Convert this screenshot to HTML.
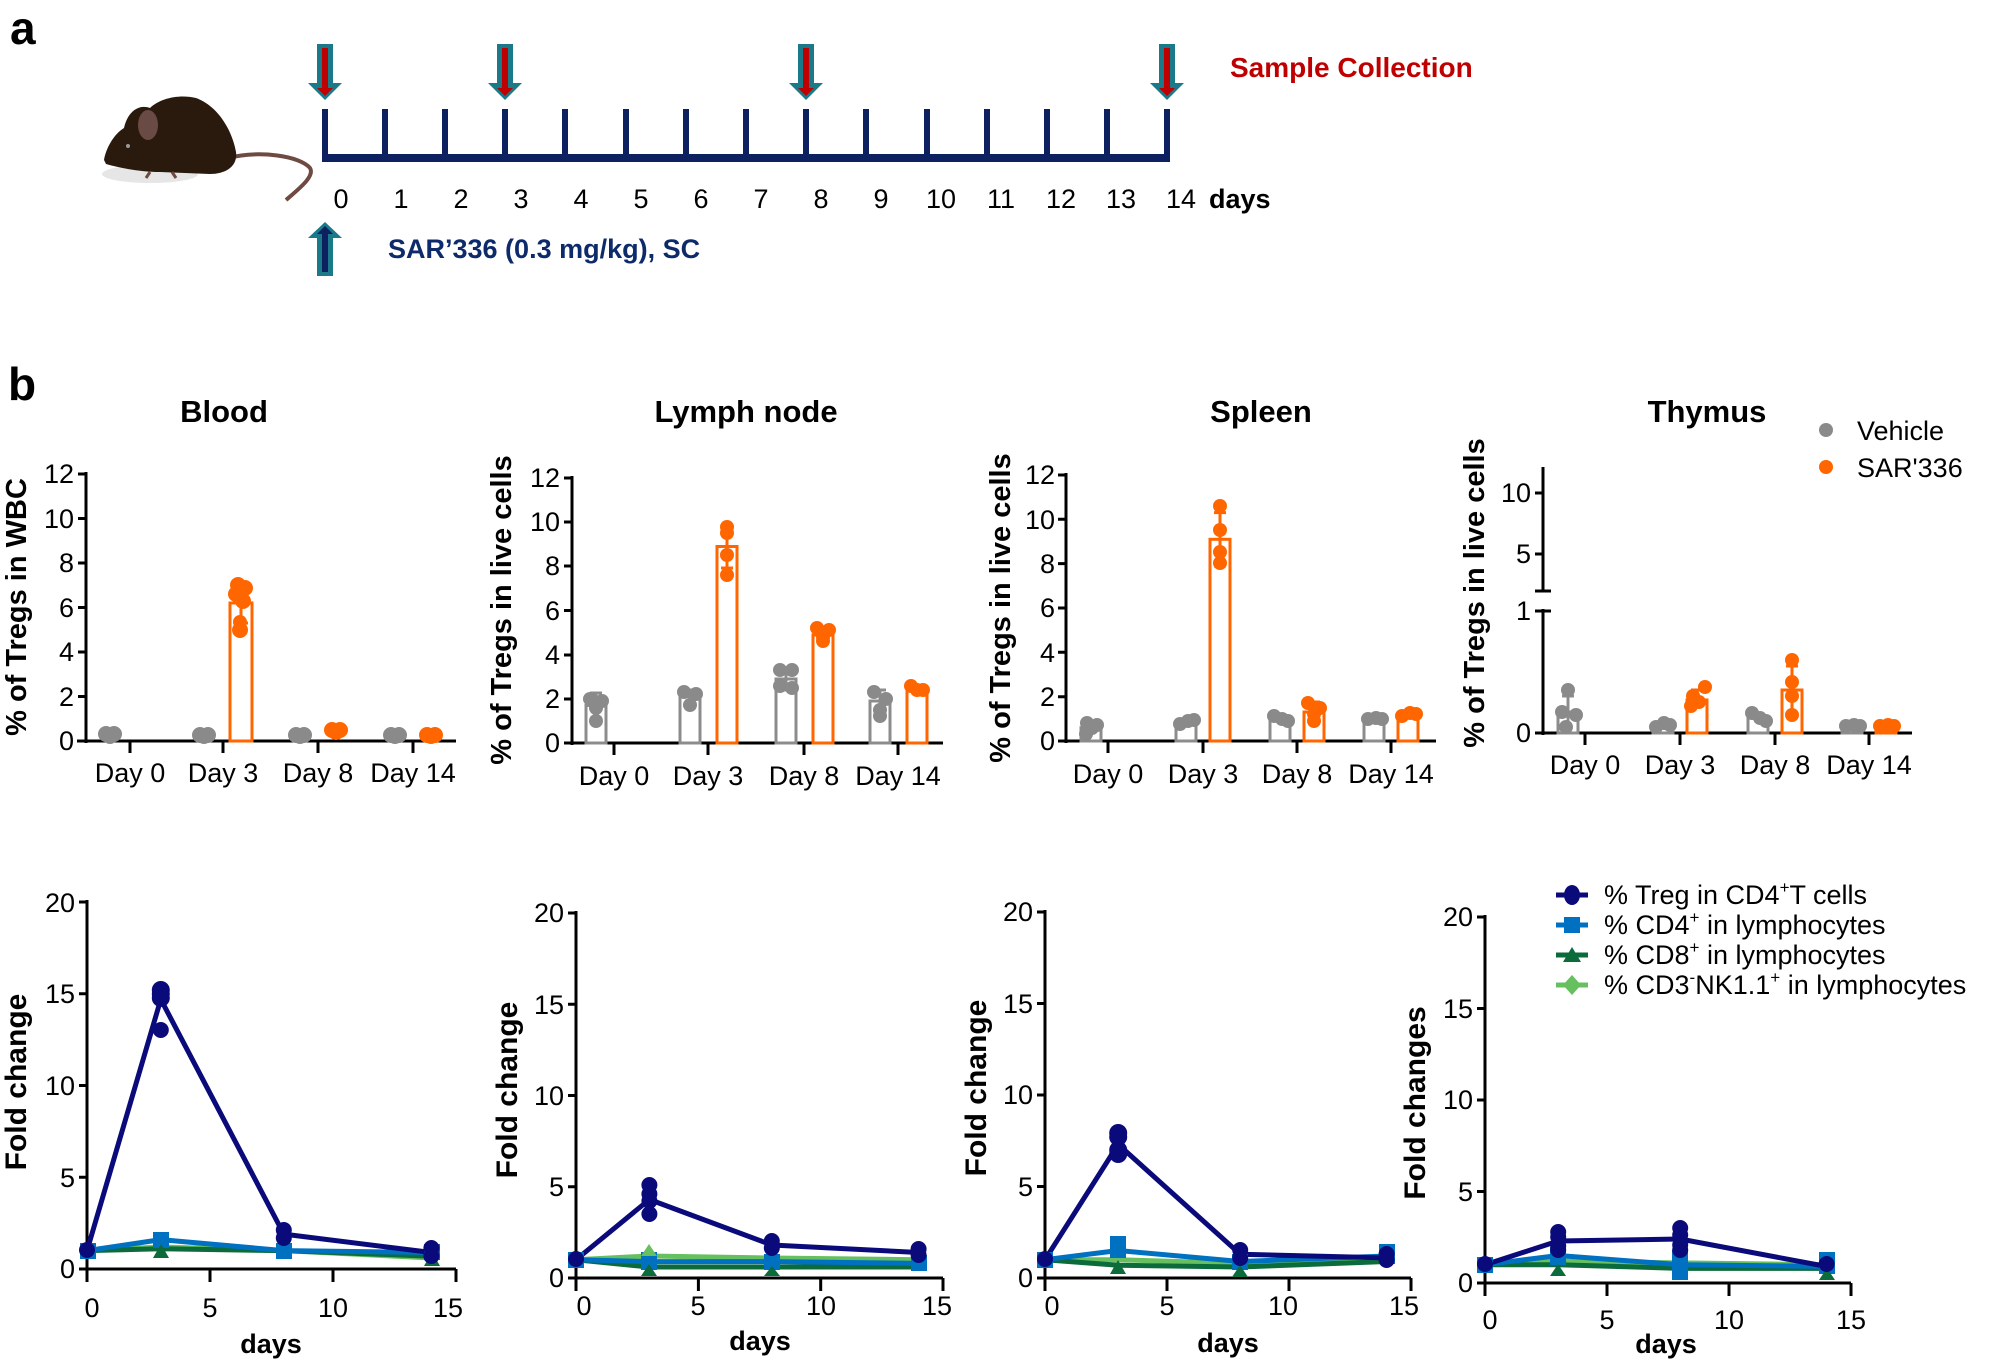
<!DOCTYPE html>
<html><head><meta charset="utf-8"><style>
html,body{margin:0;padding:0;background:#fff;}
svg{display:block;font-family:"Liberation Sans",Arial,sans-serif;}
.t{font-size:27px;fill:#000;}
.b{font-weight:bold;}
</style></head><body>
<svg width="2000" height="1364" viewBox="0 0 2000 1364" xmlns="http://www.w3.org/2000/svg">
<!-- panel a -->
<text x="10" y="44" font-size="46" font-weight="bold">a</text>
<!-- mouse -->
<ellipse cx="150" cy="174" rx="48" ry="9" fill="#e6e6e6"/>
<path d="M228,158 C260,150 300,156 310,168 C315,176 300,188 286,200" stroke="#6e4a42" stroke-width="4" fill="none"/>
<path d="M104,160 C106,148 114,134 124,128 C128,110 140,104 150,108 C160,98 180,94 196,98 C218,106 232,130 236,152 C238,166 226,174 210,174 L160,172 C140,172 120,168 106,164 Z" fill="#2a1a0e"/>
<ellipse cx="148" cy="125" rx="10" ry="15" fill="#6a4a44"/>
<circle cx="128" cy="146" r="2" fill="#999"/>
<path d="M150,172 l-4,6 M172,172 l4,6" stroke="#6e4a42" stroke-width="3"/>
<!-- timeline -->
<g fill="#0d2060">
<rect x="322" y="154" width="848" height="8"/>
<rect x="322" y="109" width="6" height="50"/><rect x="382" y="109" width="6" height="50"/><rect x="442" y="109" width="6" height="50"/><rect x="502" y="109" width="6" height="50"/><rect x="562" y="109" width="6" height="50"/><rect x="623" y="109" width="6" height="50"/><rect x="683" y="109" width="6" height="50"/><rect x="743" y="109" width="6" height="50"/><rect x="803" y="109" width="6" height="50"/><rect x="863" y="109" width="6" height="50"/><rect x="924" y="109" width="6" height="50"/><rect x="984" y="109" width="6" height="50"/><rect x="1044" y="109" width="6" height="50"/><rect x="1104" y="109" width="6" height="50"/><rect x="1164" y="109" width="6" height="50"/>
</g>
<g class="t" text-anchor="middle">
<text x="341" y="208">0</text><text x="401" y="208">1</text><text x="461" y="208">2</text><text x="521" y="208">3</text><text x="581" y="208">4</text><text x="641" y="208">5</text><text x="701" y="208">6</text><text x="761" y="208">7</text><text x="821" y="208">8</text><text x="881" y="208">9</text><text x="941" y="208">10</text><text x="1001" y="208">11</text><text x="1061" y="208">12</text><text x="1121" y="208">13</text><text x="1181" y="208">14</text>
</g>
<text x="1209" y="208" class="t b">days</text>
<!-- down arrows -->
<g>
<path d="M317,44 h16 v39 h9 l-17,17 l-17,-17 h9 z" fill="#1a7a8a"/><path d="M322,48 h6 v40 h5 l-8,8 l-8,-8 h5 z" fill="#c00000"/>
<path d="M497,44 h16 v39 h9 l-17,17 l-17,-17 h9 z" fill="#1a7a8a"/><path d="M502,48 h6 v40 h5 l-8,8 l-8,-8 h5 z" fill="#c00000"/>
<path d="M798,44 h16 v39 h9 l-17,17 l-17,-17 h9 z" fill="#1a7a8a"/><path d="M803,48 h6 v40 h5 l-8,8 l-8,-8 h5 z" fill="#c00000"/>
<path d="M1159,44 h16 v39 h9 l-17,17 l-17,-17 h9 z" fill="#1a7a8a"/><path d="M1164,48 h6 v40 h5 l-8,8 l-8,-8 h5 z" fill="#c00000"/>
</g>
<path d="M317,276 h16 v-38 h9 l-17,-16 l-17,16 h9 z" fill="#1a7a8a"/><path d="M322,272 h6 v-38 h5 l-8,-8 l-8,8 h5 z" fill="#0d2060"/>
<text x="388" y="258" font-size="27" font-weight="bold" fill="#0d2a6b">SAR’336 (0.3 mg/kg), SC</text>
<text x="1230" y="77" font-size="28" font-weight="bold" fill="#c00000">Sample  Collection</text>

<!-- panel b -->
<text x="8" y="400" font-size="46" font-weight="bold">b</text>
<g font-size="31" font-weight="bold" text-anchor="middle">
<text x="224" y="422">Blood</text><text x="746" y="422">Lymph node</text><text x="1261" y="422">Spleen</text><text x="1707" y="422">Thymus</text>
</g>
<g text-anchor="middle" font-size="29" font-weight="bold">
<text transform="translate(26,607) rotate(-90)">% of Tregs in WBC</text>
<text transform="translate(511,610) rotate(-90)">% of Tregs in live cells</text>
<text transform="translate(1010,608) rotate(-90)">% of Tregs in live cells</text>
<text transform="translate(1484,593) rotate(-90)">% of Tregs in live cells</text>
</g>

<!-- Blood axes -->
<g stroke="#000" stroke-width="3" fill="none">
<path d="M86,472 V743 M77,741 H456"/>
<path d="M78,741H86M78,696.5H86M78,652H86M78,607.5H86M78,563H86M78,518.5H86M78,474H86"/>
<path d="M130,741v12M223,741v12M318,741v12M413,741v12"/>
</g>
<g class="t" text-anchor="end">
<text x="74" y="750">0</text><text x="74" y="706">2</text><text x="74" y="661">4</text><text x="74" y="617">6</text><text x="74" y="572">8</text><text x="74" y="528">10</text><text x="74" y="483">12</text>
</g>
<g class="t" text-anchor="middle"><text x="130" y="782">Day 0</text><text x="223" y="782">Day 3</text><text x="318" y="782">Day 8</text><text x="413" y="782">Day 14</text></g>
<g fill="none" stroke-width="3">
<rect x="230" y="603" width="22" height="138" stroke="#ff6600"/>
<path d="M241,583V623M234,583h14M234,623h14" stroke="#ff6600"/>
</g>
<g fill="#8a8a8a">
<circle cx="106" cy="734" r="8"/><circle cx="114" cy="734" r="8"/><circle cx="110" cy="736" r="8"/>
<circle cx="200" cy="735" r="8"/><circle cx="208" cy="735" r="8"/><circle cx="204" cy="736" r="8"/>
<circle cx="296" cy="735" r="8"/><circle cx="304" cy="735" r="8"/><circle cx="300" cy="736" r="8"/>
<circle cx="391" cy="735" r="8"/><circle cx="399" cy="735" r="8"/><circle cx="395" cy="736" r="8"/>
</g>
<g fill="#ff6600">
<circle cx="238" cy="585" r="8"/><circle cx="245" cy="588" r="8"/><circle cx="236" cy="594" r="8"/><circle cx="243" cy="601" r="8"/><circle cx="240" cy="630" r="8"/><circle cx="240" cy="622" r="7"/>
<circle cx="332" cy="730" r="8"/><circle cx="340" cy="730" r="8"/><circle cx="336" cy="732" r="8"/>
<circle cx="427" cy="735" r="8"/><circle cx="435" cy="735" r="8"/><circle cx="431" cy="736" r="8"/>
</g>

<!-- Lymph node -->
<g stroke="#000" stroke-width="3" fill="none">
<path d="M572,476V745M568,743H943"/>
<path d="M564,743H572M564,699H572M564,655H572M564,610.5H572M564,566H572M564,522H572M564,478H572"/>
<path d="M614,743v12M708,743v12M804,743v12M898,743v12"/>
</g>
<g class="t" text-anchor="end">
<text x="560" y="752">0</text><text x="560" y="708">2</text><text x="560" y="664">4</text><text x="560" y="620">6</text><text x="560" y="575">8</text><text x="560" y="531">10</text><text x="560" y="487">12</text>
</g>
<g class="t" text-anchor="middle"><text x="614" y="785">Day 0</text><text x="708" y="785">Day 3</text><text x="804" y="785">Day 8</text><text x="898" y="785">Day 14</text></g>
<g fill="none" stroke-width="3">
<g stroke="#8c8c8c">
<rect x="586" y="705.5" width="20" height="37.5"/><path d="M596,693V718M590,693h12M590,718h12"/>
<rect x="680" y="696.6" width="20" height="46.4"/><path d="M690,690V703M684,690h12"/>
<rect x="776" y="679" width="20" height="64"/><path d="M786,668V690M780,668h12M780,690h12"/>
<rect x="870" y="701" width="20" height="42"/><path d="M880,690V712M874,690h12M874,712h12"/>
</g>
<g stroke="#ff6600">
<rect x="717" y="546.5" width="20" height="196.5"/><path d="M727,525V568M721,525h12M721,568h12"/>
<rect x="813" y="635" width="20" height="108"/><path d="M823,628V642M817,628h12"/>
<rect x="907" y="690" width="20" height="53"/><path d="M917,685V694"/>
</g>
</g>
<g fill="#8a8a8a">
<circle cx="590" cy="699" r="7"/><circle cx="602" cy="701" r="7"/><circle cx="596" cy="708" r="7"/><circle cx="596" cy="721" r="7"/>
<circle cx="684" cy="692" r="7"/><circle cx="696" cy="694" r="7"/><circle cx="690" cy="705" r="7"/>
<circle cx="780" cy="670" r="7"/><circle cx="792" cy="670" r="7"/><circle cx="780" cy="686" r="7"/><circle cx="792" cy="688" r="7"/>
<circle cx="874" cy="692" r="7"/><circle cx="886" cy="699" r="7"/><circle cx="880" cy="710" r="7"/><circle cx="880" cy="716" r="7"/>
</g>
<g fill="#ff6600">
<circle cx="727" cy="527" r="7"/><circle cx="727" cy="533" r="7"/><circle cx="727" cy="555" r="7"/><circle cx="727" cy="575" r="7"/>
<circle cx="817" cy="628" r="7"/><circle cx="829" cy="630" r="7"/><circle cx="823" cy="637" r="7"/><circle cx="823" cy="641" r="7"/>
<circle cx="911" cy="686" r="7"/><circle cx="923" cy="690" r="7"/><circle cx="917" cy="690" r="7"/>
</g>

<!-- Spleen -->
<g stroke="#000" stroke-width="3" fill="none">
<path d="M1066,473V743M1060,741H1436"/>
<path d="M1058,741H1066M1058,696.7H1066M1058,652.3H1066M1058,608H1066M1058,563.6H1066M1058,519.3H1066M1058,475H1066"/>
<path d="M1108,741v12M1203,741v12M1297,741v12M1391,741v12"/>
</g>
<g class="t" text-anchor="end">
<text x="1055" y="750">0</text><text x="1055" y="706">2</text><text x="1055" y="662">4</text><text x="1055" y="617">6</text><text x="1055" y="573">8</text><text x="1055" y="529">10</text><text x="1055" y="484">12</text>
</g>
<g class="t" text-anchor="middle"><text x="1108" y="783">Day 0</text><text x="1203" y="783">Day 3</text><text x="1297" y="783">Day 8</text><text x="1391" y="783">Day 14</text></g>
<g fill="none" stroke-width="3">
<g stroke="#8c8c8c">
<rect x="1081" y="727.7" width="20" height="13.3"/><rect x="1176" y="723" width="20" height="18"/><rect x="1270" y="718.8" width="20" height="22.2"/><rect x="1364" y="718.8" width="20" height="22.2"/>
</g>
<g stroke="#ff6600">
<rect x="1210" y="539.3" width="20" height="201.7"/><path d="M1220,512.6V566M1214,512.6h12M1214,566h12"/>
<rect x="1304" y="712" width="20" height="29"/><path d="M1314,702V722M1308,702h12"/>
<rect x="1398" y="714.4" width="20" height="26.6"/>
</g>
</g>
<g fill="#8a8a8a">
<circle cx="1087" cy="723" r="7"/><circle cx="1097" cy="725" r="7"/><circle cx="1092" cy="728" r="7"/><circle cx="1086" cy="734" r="7"/>
<circle cx="1180" cy="724" r="7"/><circle cx="1188" cy="721" r="7"/><circle cx="1194" cy="720" r="7"/>
<circle cx="1274" cy="716" r="7"/><circle cx="1282" cy="719" r="7"/><circle cx="1288" cy="721" r="7"/>
<circle cx="1368" cy="719" r="7"/><circle cx="1376" cy="718" r="7"/><circle cx="1382" cy="719" r="7"/>
</g>
<g fill="#ff6600">
<circle cx="1220" cy="506" r="7"/><circle cx="1220" cy="530" r="7"/><circle cx="1220" cy="552" r="7"/><circle cx="1220" cy="563" r="7"/>
<circle cx="1308" cy="703" r="7"/><circle cx="1320" cy="708" r="7"/><circle cx="1314" cy="714" r="7"/><circle cx="1314" cy="721" r="7"/>
<circle cx="1402" cy="716" r="7"/><circle cx="1410" cy="713" r="7"/><circle cx="1416" cy="714" r="7"/>
</g>

<!-- Thymus -->
<g stroke="#000" stroke-width="3" fill="none">
<path d="M1543,467V591M1543,609V735M1536,733H1912"/>
<path d="M1535,493H1543M1535,554H1543M1535,591H1551M1535,611H1551M1535,733H1543"/>
<path d="M1585,733v12M1680,733v12M1775,733v12M1869,733v12"/>
</g>
<g class="t" text-anchor="end">
<text x="1531" y="742">0</text><text x="1531" y="620">1</text><text x="1531" y="563">5</text><text x="1531" y="502">10</text>
</g>
<g class="t" text-anchor="middle"><text x="1585" y="774">Day 0</text><text x="1680" y="774">Day 3</text><text x="1775" y="774">Day 8</text><text x="1869" y="774">Day 14</text></g>
<g fill="none" stroke-width="3">
<g stroke="#8c8c8c">
<rect x="1558" y="712" width="20" height="21"/><path d="M1568,696V730M1562,696h12"/>
<rect x="1653" y="724.5" width="20" height="8.5"/><rect x="1748" y="717" width="20" height="16"/><rect x="1842" y="725.7" width="20" height="7.3"/>
</g>
<g stroke="#ff6600">
<rect x="1687" y="700" width="20" height="33"/><path d="M1697,690V708M1691,690h12"/>
<rect x="1782" y="690" width="20" height="43"/><path d="M1792,666V714M1786,666h12"/>
<rect x="1876" y="725.7" width="20" height="7.3"/>
</g>
</g>
<g fill="#8a8a8a">
<circle cx="1568" cy="690" r="7"/><circle cx="1562" cy="712" r="7"/><circle cx="1576" cy="715" r="7"/><circle cx="1566" cy="727" r="7"/>
<circle cx="1656" cy="727" r="7"/><circle cx="1664" cy="723" r="7"/><circle cx="1670" cy="725" r="7"/>
<circle cx="1752" cy="713" r="7"/><circle cx="1760" cy="718" r="7"/><circle cx="1766" cy="721" r="7"/>
<circle cx="1846" cy="726" r="7"/><circle cx="1854" cy="725" r="7"/><circle cx="1860" cy="726" r="7"/>
</g>
<g fill="#ff6600">
<circle cx="1705" cy="687" r="7"/><circle cx="1693" cy="696" r="7"/><circle cx="1699" cy="702" r="7"/><circle cx="1691" cy="706" r="7"/>
<circle cx="1792" cy="660" r="7"/><circle cx="1792" cy="682" r="7"/><circle cx="1792" cy="696" r="7"/><circle cx="1792" cy="715" r="7"/>
<circle cx="1880" cy="726" r="7"/><circle cx="1888" cy="725" r="7"/><circle cx="1894" cy="726" r="7"/>
</g>
<circle cx="1826" cy="430" r="7" fill="#8a8a8a"/><text x="1857" y="440" class="t">Vehicle</text>
<circle cx="1826" cy="467" r="7" fill="#ff6600"/><text x="1857" y="477" class="t">SAR'336</text>

<!-- bottom row labels -->
<g font-size="30" font-weight="bold" text-anchor="middle">
<text transform="translate(26,1082) rotate(-90)">Fold change</text>
<text transform="translate(517,1090) rotate(-90)">Fold change</text>
<text transform="translate(986,1088) rotate(-90)">Fold change</text>
<text transform="translate(1425,1103) rotate(-90)">Fold changes</text>
</g>
<g font-size="27" font-weight="bold" text-anchor="middle">
<text x="271" y="1353">days</text><text x="760" y="1350">days</text><text x="1228" y="1352">days</text><text x="1666" y="1353">days</text>
</g>

<!-- C1 -->
<g stroke="#000" stroke-width="3" fill="none">
<path d="M87,900V1282M85,1269H456"/>
<path d="M79,1269H87M79,1177.25H87M79,1085.5H87M79,993.75H87M79,902H87"/>
<path d="M87,1269v13M210,1269v13M333,1269v13M456,1269v13"/>
</g>
<g class="t" text-anchor="end"><text x="75" y="1278">0</text><text x="75" y="1187">5</text><text x="75" y="1095">10</text><text x="75" y="1003">15</text><text x="75" y="912">20</text></g>
<g class="t" text-anchor="middle"><text x="92" y="1317">0</text><text x="210" y="1317">5</text><text x="333" y="1317">10</text><text x="448" y="1317">15</text></g>
<g fill="none" stroke-width="5" stroke-linejoin="round">
<polyline points="87,1250.65 160.8,1247 283.8,1250.65 431.4,1258" stroke="#66c060"/>
<polyline points="87,1250.65 160.8,1248.8 283.8,1250.65 431.4,1256.2" stroke="#0b6b3a"/>
<polyline points="87,1250.65 160.8,1239.6 283.8,1250.65 431.4,1252.5" stroke="#0070c0"/>
<polyline points="87,1250.65 160.8,999.3 283.8,1234.1 431.4,1252.5" stroke="#0a0a7a"/>
</g>
<g fill="#0070c0"><rect x="153" y="1232" width="16" height="16"/><rect x="276" y="1243" width="16" height="16"/><rect x="424" y="1244" width="16" height="16"/><rect x="80" y="1243" width="16" height="16"/></g>
<g fill="#0b6b3a"><path d="M153,1258l8,-14l8,14z"/><path d="M424,1266l8,-14l8,14z"/></g>
<g fill="#0a0a7a"><circle cx="87" cy="1250" r="8"/><circle cx="160.8" cy="990" r="9"/><circle cx="160.8" cy="994" r="9"/><circle cx="160.8" cy="998" r="9"/><circle cx="160.8" cy="1030" r="8"/><circle cx="283.8" cy="1230" r="8"/><circle cx="283.8" cy="1238" r="8"/><circle cx="431.4" cy="1248" r="8"/><circle cx="431.4" cy="1256" r="8"/></g>

<!-- C2 -->
<g stroke="#000" stroke-width="3" fill="none">
<path d="M576,911V1291M574,1278H943"/>
<path d="M568,1278H576M568,1186.75H576M568,1095.5H576M568,1004.25H576M568,913H576"/>
<path d="M576,1278v13M698.4,1278v13M820.7,1278v13M943,1278v13"/>
</g>
<g class="t" text-anchor="end"><text x="564" y="1287">0</text><text x="564" y="1196">5</text><text x="564" y="1105">10</text><text x="564" y="1014">15</text><text x="564" y="922">20</text></g>
<g class="t" text-anchor="middle"><text x="584" y="1315">0</text><text x="698" y="1315">5</text><text x="821" y="1315">10</text><text x="937" y="1315">15</text></g>
<g fill="none" stroke-width="5" stroke-linejoin="round">
<polyline points="576,1259.75 649.4,1256 771.8,1258 918.6,1259.75" stroke="#66c060"/>
<polyline points="576,1259.75 649.4,1267 771.8,1267 918.6,1267" stroke="#0b6b3a"/>
<polyline points="576,1259.75 649.4,1261.6 771.8,1261.6 918.6,1263.4" stroke="#0070c0"/>
<polyline points="576,1259.75 649.4,1199.5 771.8,1245 918.6,1252.5" stroke="#0a0a7a"/>
</g>
<g fill="#0070c0"><rect x="568" y="1252" width="16" height="16"/><rect x="641" y="1252" width="16" height="18"/><rect x="764" y="1254" width="16" height="16"/><rect x="911" y="1255" width="16" height="16"/></g>
<g fill="#0b6b3a"><path d="M641,1276l8,-12l8,12z"/><path d="M764,1276l8,-10l8,10z"/></g>
<path d="M641,1256l8,-12l8,12z" fill="#66c060"/>
<g fill="#0a0a7a"><circle cx="576" cy="1259" r="8"/><circle cx="649.4" cy="1185" r="8"/><circle cx="649.4" cy="1194" r="8"/><circle cx="649.4" cy="1201" r="8"/><circle cx="649.4" cy="1214" r="8"/><circle cx="771.8" cy="1241" r="8"/><circle cx="771.8" cy="1248" r="8"/><circle cx="918.6" cy="1249" r="8"/><circle cx="918.6" cy="1255" r="8"/></g>

<!-- C3 -->
<g stroke="#000" stroke-width="3" fill="none">
<path d="M1045,910V1291M1043,1278H1411"/>
<path d="M1037,1278H1045M1037,1186.5H1045M1037,1095H1045M1037,1003.5H1045M1037,912H1045"/>
<path d="M1045,1278v13M1167,1278v13M1289,1278v13M1411,1278v13"/>
</g>
<g class="t" text-anchor="end"><text x="1033" y="1287">0</text><text x="1033" y="1196">5</text><text x="1033" y="1104">10</text><text x="1033" y="1013">15</text><text x="1033" y="921">20</text></g>
<g class="t" text-anchor="middle"><text x="1052" y="1315">0</text><text x="1167" y="1315">5</text><text x="1283" y="1315">10</text><text x="1404" y="1315">15</text></g>
<g fill="none" stroke-width="5" stroke-linejoin="round">
<polyline points="1045,1259.7 1118.2,1259.7 1240.2,1263.4 1386.6,1259.7" stroke="#66c060"/>
<polyline points="1045,1259.7 1118.2,1265.2 1240.2,1267 1386.6,1261.5" stroke="#0b6b3a"/>
<polyline points="1045,1259.7 1118.2,1250.5 1240.2,1261.5 1386.6,1256" stroke="#0070c0"/>
<polyline points="1045,1259.7 1118.2,1144.4 1240.2,1254.2 1386.6,1257.9" stroke="#0a0a7a"/>
</g>
<g fill="#0070c0"><rect x="1037" y="1252" width="16" height="16"/><rect x="1110" y="1236" width="16" height="22"/><rect x="1232" y="1254" width="16" height="16"/><rect x="1379" y="1244" width="16" height="20"/></g>
<g fill="#0b6b3a"><path d="M1110,1274l8,-14l8,14z"/><path d="M1232,1277l8,-12l8,12z"/></g>
<g fill="#0a0a7a"><circle cx="1045" cy="1259" r="8"/><circle cx="1118.2" cy="1133" r="9"/><circle cx="1118.2" cy="1137" r="9"/><circle cx="1118.2" cy="1150" r="9"/><circle cx="1118.2" cy="1154" r="9"/><circle cx="1240.2" cy="1250" r="8"/><circle cx="1240.2" cy="1258" r="8"/><circle cx="1386.6" cy="1254" r="8"/><circle cx="1386.6" cy="1260" r="8"/></g>

<!-- C4 -->
<g stroke="#000" stroke-width="3" fill="none">
<path d="M1485,915V1296M1483,1283H1851"/>
<path d="M1477,1283H1485M1477,1191.5H1485M1477,1100H1485M1477,1008.5H1485M1477,917H1485"/>
<path d="M1485,1283v13M1607,1283v13M1729,1283v13M1851,1283v13"/>
</g>
<g class="t" text-anchor="end"><text x="1473" y="1292">0</text><text x="1473" y="1201">5</text><text x="1473" y="1109">10</text><text x="1473" y="1018">15</text><text x="1473" y="926">20</text></g>
<g class="t" text-anchor="middle"><text x="1490" y="1329">0</text><text x="1607" y="1329">5</text><text x="1729" y="1329">10</text><text x="1851" y="1329">15</text></g>
<g fill="none" stroke-width="5" stroke-linejoin="round">
<polyline points="1485,1264.7 1558.2,1261 1680.2,1262.9 1826.6,1264.7" stroke="#66c060"/>
<polyline points="1485,1264.7 1558.2,1264.7 1680.2,1268.4 1826.6,1268.4" stroke="#0b6b3a"/>
<polyline points="1485,1264.7 1558.2,1255.5 1680.2,1264.7 1826.6,1266.5" stroke="#0070c0"/>
<polyline points="1485,1264.7 1558.2,1241 1680.2,1239 1826.6,1266.5" stroke="#0a0a7a"/>
</g>
<g fill="#0070c0"><rect x="1477" y="1257" width="16" height="16"/><rect x="1550" y="1247" width="16" height="18"/><rect x="1672" y="1250" width="16" height="30"/><rect x="1819" y="1252" width="16" height="22"/></g>
<g fill="#0b6b3a"><path d="M1550,1276l8,-12l8,12z"/><path d="M1819,1280l8,-12l8,12z"/></g>
<g fill="#0a0a7a"><circle cx="1485" cy="1264" r="8"/><circle cx="1558.2" cy="1232" r="8"/><circle cx="1558.2" cy="1237" r="8"/><circle cx="1558.2" cy="1246" r="8"/><circle cx="1558.2" cy="1250" r="8"/><circle cx="1680.2" cy="1228" r="8"/><circle cx="1680.2" cy="1235" r="8"/><circle cx="1680.2" cy="1245" r="8"/><circle cx="1680.2" cy="1250" r="8"/><circle cx="1826.6" cy="1264" r="8"/></g>

<!-- legend bottom -->
<g stroke-width="5">
<path d="M1556,895H1588" stroke="#0a0a7a"/><path d="M1556,925H1588" stroke="#0070c0"/><path d="M1556,955H1588" stroke="#0b6b3a"/><path d="M1556,985H1588" stroke="#66c060"/>
</g>
<ellipse cx="1572" cy="895" rx="8" ry="10" fill="#0a0a7a"/>
<rect x="1564" y="917" width="16" height="16" fill="#0070c0"/>
<path d="M1563,962l9,-15l9,15z" fill="#0b6b3a"/>
<path d="M1572,975l9,10l-9,10l-9,-10z" fill="#66c060"/>
<g class="t">
<text x="1604" y="904">% Treg in CD4<tspan font-size="17" dy="-11">+</tspan><tspan dy="11">T cells</tspan></text>
<text x="1604" y="934">% CD4<tspan font-size="17" dy="-11">+</tspan><tspan dy="11"> in lymphocytes</tspan></text>
<text x="1604" y="964">% CD8<tspan font-size="17" dy="-11">+</tspan><tspan dy="11"> in lymphocytes</tspan></text>
<text x="1604" y="994">% CD3<tspan font-size="17" dy="-11">-</tspan><tspan dy="11">NK1.1</tspan><tspan font-size="17" dy="-11">+</tspan><tspan dy="11"> in lymphocytes</tspan></text>
</g>
</svg>
</body></html>
